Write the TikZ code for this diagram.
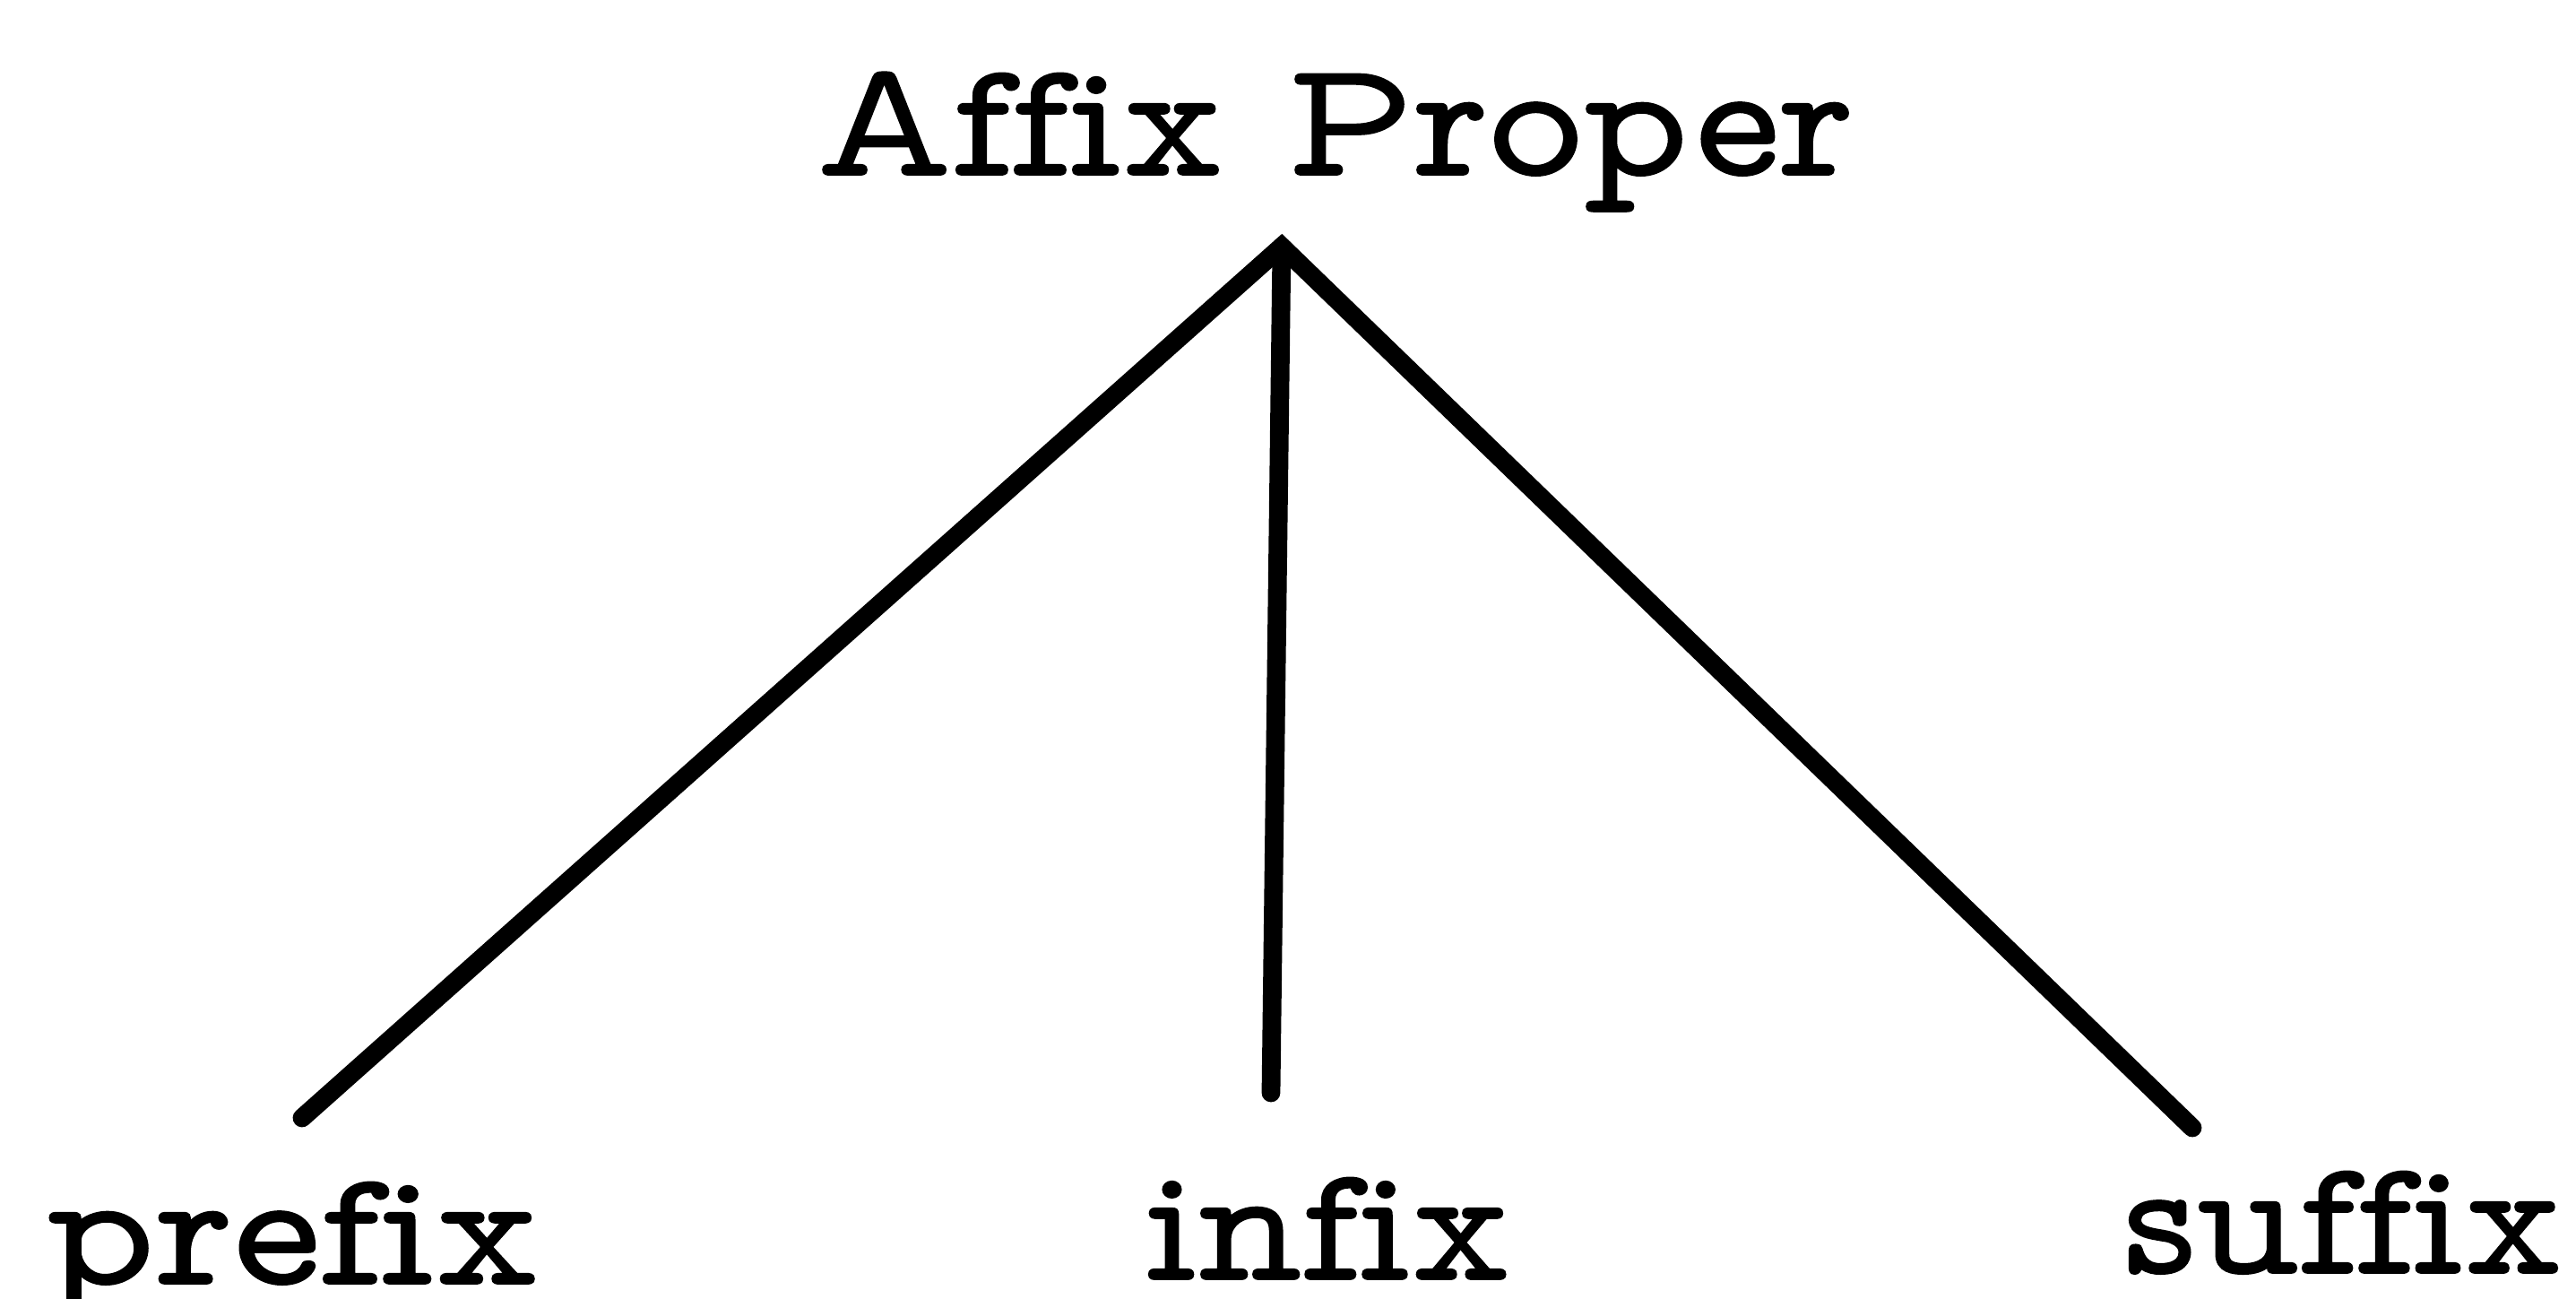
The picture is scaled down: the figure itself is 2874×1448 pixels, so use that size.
\documentclass[tikz,border=0pt]{standalone}
\usepackage{fontspec}
\usepackage{graphicx}
\newfontfamily\tw[FakeBold=1,Ligatures=NoCommon]{Latin Modern Mono Prop}
\newcommand{\wlabel}[2]{\resizebox{#1}{\height}{#2}}
\begin{document}
\begin{tikzpicture}[x=0.25pt,y=-0.25pt,
  lbl/.style={inner sep=0pt,anchor=base,font=\tw\fontsize{46}{55}\selectfont},
  branch/.style={line width=5.2pt,line cap=round,line join=miter}]
\useasboundingbox (0,0) rectangle (2874,1448);
\node[lbl] (root) at (1489,195) {\wlabel{289.5pt}{Affix Proper}};
\node[lbl] (pre) at (327,1432) {\wlabel{137.5pt}{prefix}};
\node[lbl] (inf) at (1482,1427) {\wlabel{101.75pt}{infix}};
\node[lbl] (suf) at (2614,1420) {\wlabel{122.5pt}{suffix}};
\coordinate (apex) at (1430,275);
\coordinate (preEnd) at (337,1247);
\coordinate (inEnd) at (1418,1219);
\coordinate (sufEnd) at (2446,1258);
\draw[branch] (preEnd) -- (apex) -- (sufEnd);
\draw[branch] (apex) -- (inEnd);
\end{tikzpicture}
\end{document}
